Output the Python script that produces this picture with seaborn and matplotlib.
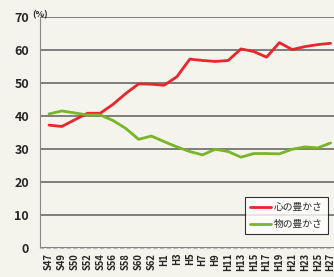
import pandas as pd
import matplotlib
matplotlib.use("Agg")
import matplotlib.pyplot as plt
import seaborn as sns

# data
years = ["S47", "S49", "S50", "S52", "S54", "S56", "S58", "S60", "S62",
         "H1", "H3", "H5", "H7", "H9", "H11", "H13", "H15", "H17", "H19",
         "H21", "H23", "H25", "H27"]
kokoro = [37.2, 36.8, 38.8, 40.8, 40.8, 43.5, 46.8, 49.7, 49.6, 49.3, 51.9,
          57.2, 56.8, 56.5, 56.8, 60.3, 59.5, 57.8, 62.2, 60.1, 61.0, 61.6, 62.0]
mono = [40.6, 41.5, 40.9, 40.3, 40.3, 38.6, 36.2, 32.9, 33.9, 32.2, 30.6,
        29.2, 28.2, 29.9, 29.2, 27.5, 28.6, 28.6, 28.5, 29.9, 30.6, 30.3, 31.8]
series_names = ["心の豊かさ", "物の豊かさ"]

BG = "#f4f3ec"
RED = "#e8262b"
GREEN = "#78b52a"

sns.set_style("white")
plt.rcParams["font.family"] = ["Noto Sans CJK JP", "DejaVu Sans"]

df = pd.DataFrame({"idx": list(range(len(years))) * 2,
                   "value": kokoro + mono,
                   "series": [series_names[0]] * len(years) + [series_names[1]] * len(years)})

fig = plt.figure(figsize=(3.34, 2.77), dpi=100, facecolor=BG)
ax = fig.add_axes([0.12, 0.105, 0.88, 0.834])
ax.set_facecolor(BG)

sns.lineplot(data=df, x="idx", y="value", hue="series",
             palette=[RED, GREEN], linewidth=2, ax=ax)

ax.set_ylim(0, 70)
ax.set_xlim(-0.7, 22.27)
ax.set_yticks(range(0, 71, 10))
ax.set_yticklabels([str(v) for v in range(0, 71, 10)], fontsize=9, fontweight="bold")
ax.set_xticks(range(len(years)))
ax.set_xticklabels(years, rotation=90, fontsize=6.8, fontweight="bold")
ax.tick_params(axis="y", length=0, pad=8)
ax.tick_params(axis="x", length=2, color="#999999", pad=1.5)
ax.grid(axis="y", color="#5e5e5e", linewidth=1.1)
ax.set_axisbelow(True)
ax.set_xlabel("")
ax.set_ylabel("")
for s in ["top", "right"]:
    ax.spines[s].set_visible(False)
ax.spines["left"].set_color("#888888")
ax.spines["bottom"].set_color("#bbbbbb")
ax.spines["bottom"].set_linestyle((0, (3, 3)))

fig.text(0.096, 0.948, "(%)", fontsize=6.5, fontweight="bold", va="center", ha="left")

leg = ax.legend(loc="lower right", bbox_to_anchor=(0.995, 0.04), fontsize=7,
                frameon=True, fancybox=False, edgecolor="black", facecolor="white",
                handlelength=2.2, handletextpad=0.3, borderpad=0.5, labelspacing=0.7)
leg.get_frame().set_linewidth(0.8)
for line in leg.get_lines():
    line.set_linewidth(2)

fig.savefig("out.png", dpi=100, facecolor=BG)
